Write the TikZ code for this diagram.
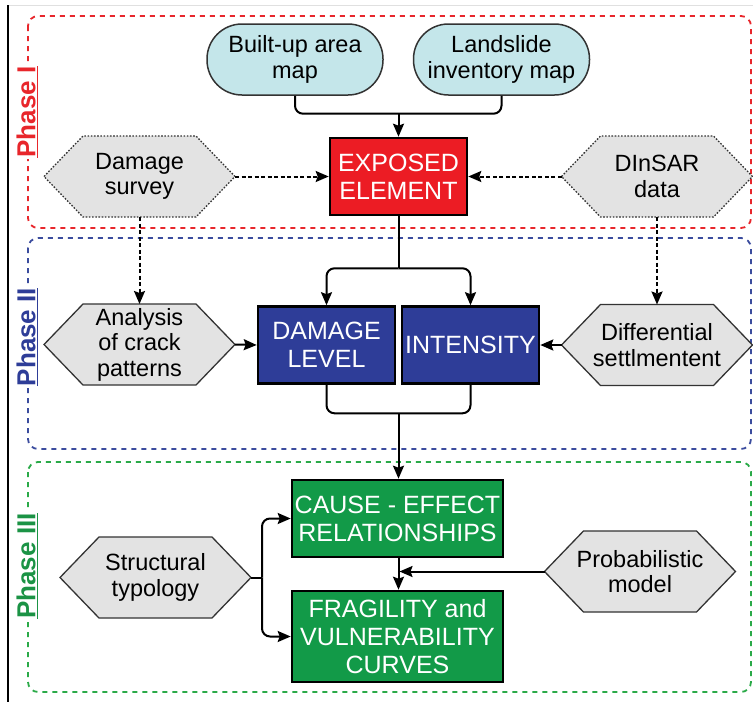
\documentclass[tikz,border=0pt]{standalone}
\usepackage{fontspec}
\setmainfont{Liberation Sans}
\usepackage{tikz}
\usetikzlibrary{arrows.meta,calc}

\definecolor{mapcyan}{HTML}{C4E6EA}
\definecolor{hexgray}{HTML}{E3E3E3}
\definecolor{exposedred}{HTML}{EC1C24}
\definecolor{levelblue}{HTML}{2E3D98}
\definecolor{curvegreen}{HTML}{129A48}
\definecolor{phasered}{HTML}{E8262B}
\definecolor{phaseblue}{HTML}{3B4C9E}
\definecolor{phasegreen}{HTML}{2AAA48}
\definecolor{labelgreen}{HTML}{1B9345}

\newcommand\boxfont{\fontsize{25}{28}\selectfont}
\newcommand\hexfont{\fontsize{23.5}{25.5}\selectfont}
\newcommand\phasefont{\fontsize{26}{30}\selectfont\bfseries}

\tikzset{
  mapbox/.style={draw=black!80, line width=1.5pt, fill=mapcyan,
    rounded corners=35pt, minimum width=176pt, minimum height=71pt,
    align=center, font=\hexfont},
  stepbox/.style={draw=black, line width=2.6pt, text=white,
    minimum width=137pt, minimum height=77pt, inner sep=1pt,
    align=center, font=\boxfont},
  hextext/.style={minimum width=191pt, minimum height=81pt, inner sep=0pt,
    outer sep=0pt, align=center, font=\hexfont},
  hexsolid/.style={draw=black!80, line width=1.3pt, fill=hexgray},
  hexdotted/.style={hexsolid, dash pattern=on 1.6pt off 1.6pt},
  conn/.style={line width=2pt, black, rounded corners=8pt},
  tip/.style={-{Stealth[length=13pt, width=11pt, inset=2pt]}},
  dasharrow/.style={conn, tip, dash pattern=on 4pt off 2.5pt},
  phasebox/.style={line width=1.8pt, dash pattern=on 5pt off 5pt,
    rounded corners=10pt},
  phaselabel/.style={rotate=90, fill=white, inner sep=1pt, font=\phasefont},
}

% hexagon: [border style]{name}{centre}{text}
\newcommand\hexnode[4][hexsolid]{%
  \filldraw[#1] (#3) ++(-95.5,0) -- ++(39,-40.5) -- ++(113,0) -- ++(39,40.5)
    -- ++(-39,40.5) -- ++(-113,0) -- cycle;
  \node[hextext] (#2) at (#3) {#4};
}

\begin{document}
\begin{tikzpicture}[x=1pt, y=-1pt]
  \useasboundingbox (0,0) rectangle (753,702);
  \draw [black!12, line width=1pt] (8,5.5) -- (753,5.5);
  \draw [black, line width=1.2pt] (8,5) -- (8,702);

  % phases
  \draw [phasebox, draw=phasered] (28,16) rectangle (751,228);
  \draw [phasebox, draw=phaseblue] (28,238) rectangle (751,449);
  \draw [phasebox, draw=phasegreen] (28,462) rectangle (751,692);
  \node [phaselabel, text=phasered] (phaseI) at (27,112) {\underline{Phase I}};
  \node [phaselabel, text=levelblue] (phaseII) at (27,337) {\underline{Phase II}};
  \node [phaselabel, text=labelgreen] (phaseIII) at (27,566) {\underline{Phase III}};

  % Phase I
  \node [mapbox] (builtup) at (295,59.5) {Built-up area\\map};
  \node [mapbox] (landslide) at (501.5,59.5) {Landslide\\inventory map};
  \node [stepbox, fill=exposedred] (exposed) at (398.5,176.5) {EXPOSED\\ELEMENT};
  \hexnode[hexdotted]{survey}{139.5,176.5}{Damage\\survey}
  \hexnode[hexdotted]{dinsar}{657,176.5}{DInSAR\\data}

  % Phase II
  \node [stepbox, fill=levelblue] (damage) at (326.5,345) {DAMAGE\\LEVEL};
  \node [stepbox, fill=levelblue] (intensity) at (470.5,345) {INTENSITY};
  \hexnode{crack}{139.5,344.5}{Analysis\\of crack\\patterns}
  \hexnode{settlement}{657,345}{Differential\\settlmentent}

  % Phase III
  \node [stepbox, fill=curvegreen, minimum width=211pt] (cause) at (397.5,518.5)
    {CAUSE - EFFECT\\RELATIONSHIPS};
  \node [stepbox, fill=curvegreen, minimum width=211pt, minimum height=91pt]
    (fragility) at (397.5,636.5) {FRAGILITY and\\VULNERABILITY\\CURVES};
  \hexnode{typology}{155.5,577.5}{Structural\\typology}
  \hexnode{probabilistic}{640,571.5}{Probabilistic\\model}

  % connectors
  \coordinate (mapjoin) at ($(exposed.north)+(0,-23)$);
  \draw [conn] (builtup.south) |- (mapjoin) -| (landslide.south);
  \draw [conn, tip] (mapjoin) -- (exposed.north);
  \draw [dasharrow] (survey.east) -- (exposed.west);
  \draw [dasharrow] (dinsar.west) -- (exposed.east);
  \draw [dasharrow] (survey.south) -- (crack.north);
  \draw [dasharrow] (dinsar.south) -- (settlement.north);

  \coordinate (split) at ($(exposed.south)+(0,52)$);
  \draw [conn] (exposed.south) -- (split);
  \draw [conn, tip] (split) -| (damage.north);
  \draw [conn, tip] (split) -| (intensity.north);
  \draw [conn, tip] (crack.east) -- (damage.west);
  \draw [conn, tip] (settlement.west) -- (intensity.east);

  \coordinate (merge) at ($(exposed.south)+(0,197)$);
  \draw [conn] (damage.south) |- (merge) -| (intensity.south);
  \draw [conn, tip] (merge) -- (cause.north -| merge);

  \draw [conn, tip] (cause.south -| merge) -- (fragility.north -| merge);
  \draw [conn, tip] (probabilistic.west) -- ($(probabilistic.west -| merge)+(1,0)$);
  \coordinate (typsplit) at ($(typology.east)+(11,0)$);
  \draw [conn] (typology.east) -- (typsplit);
  \draw [conn, tip] (typsplit) |- (cause.west);
  \draw [conn, tip] (typsplit) |- (fragility.west);
\end{tikzpicture}
\end{document}
